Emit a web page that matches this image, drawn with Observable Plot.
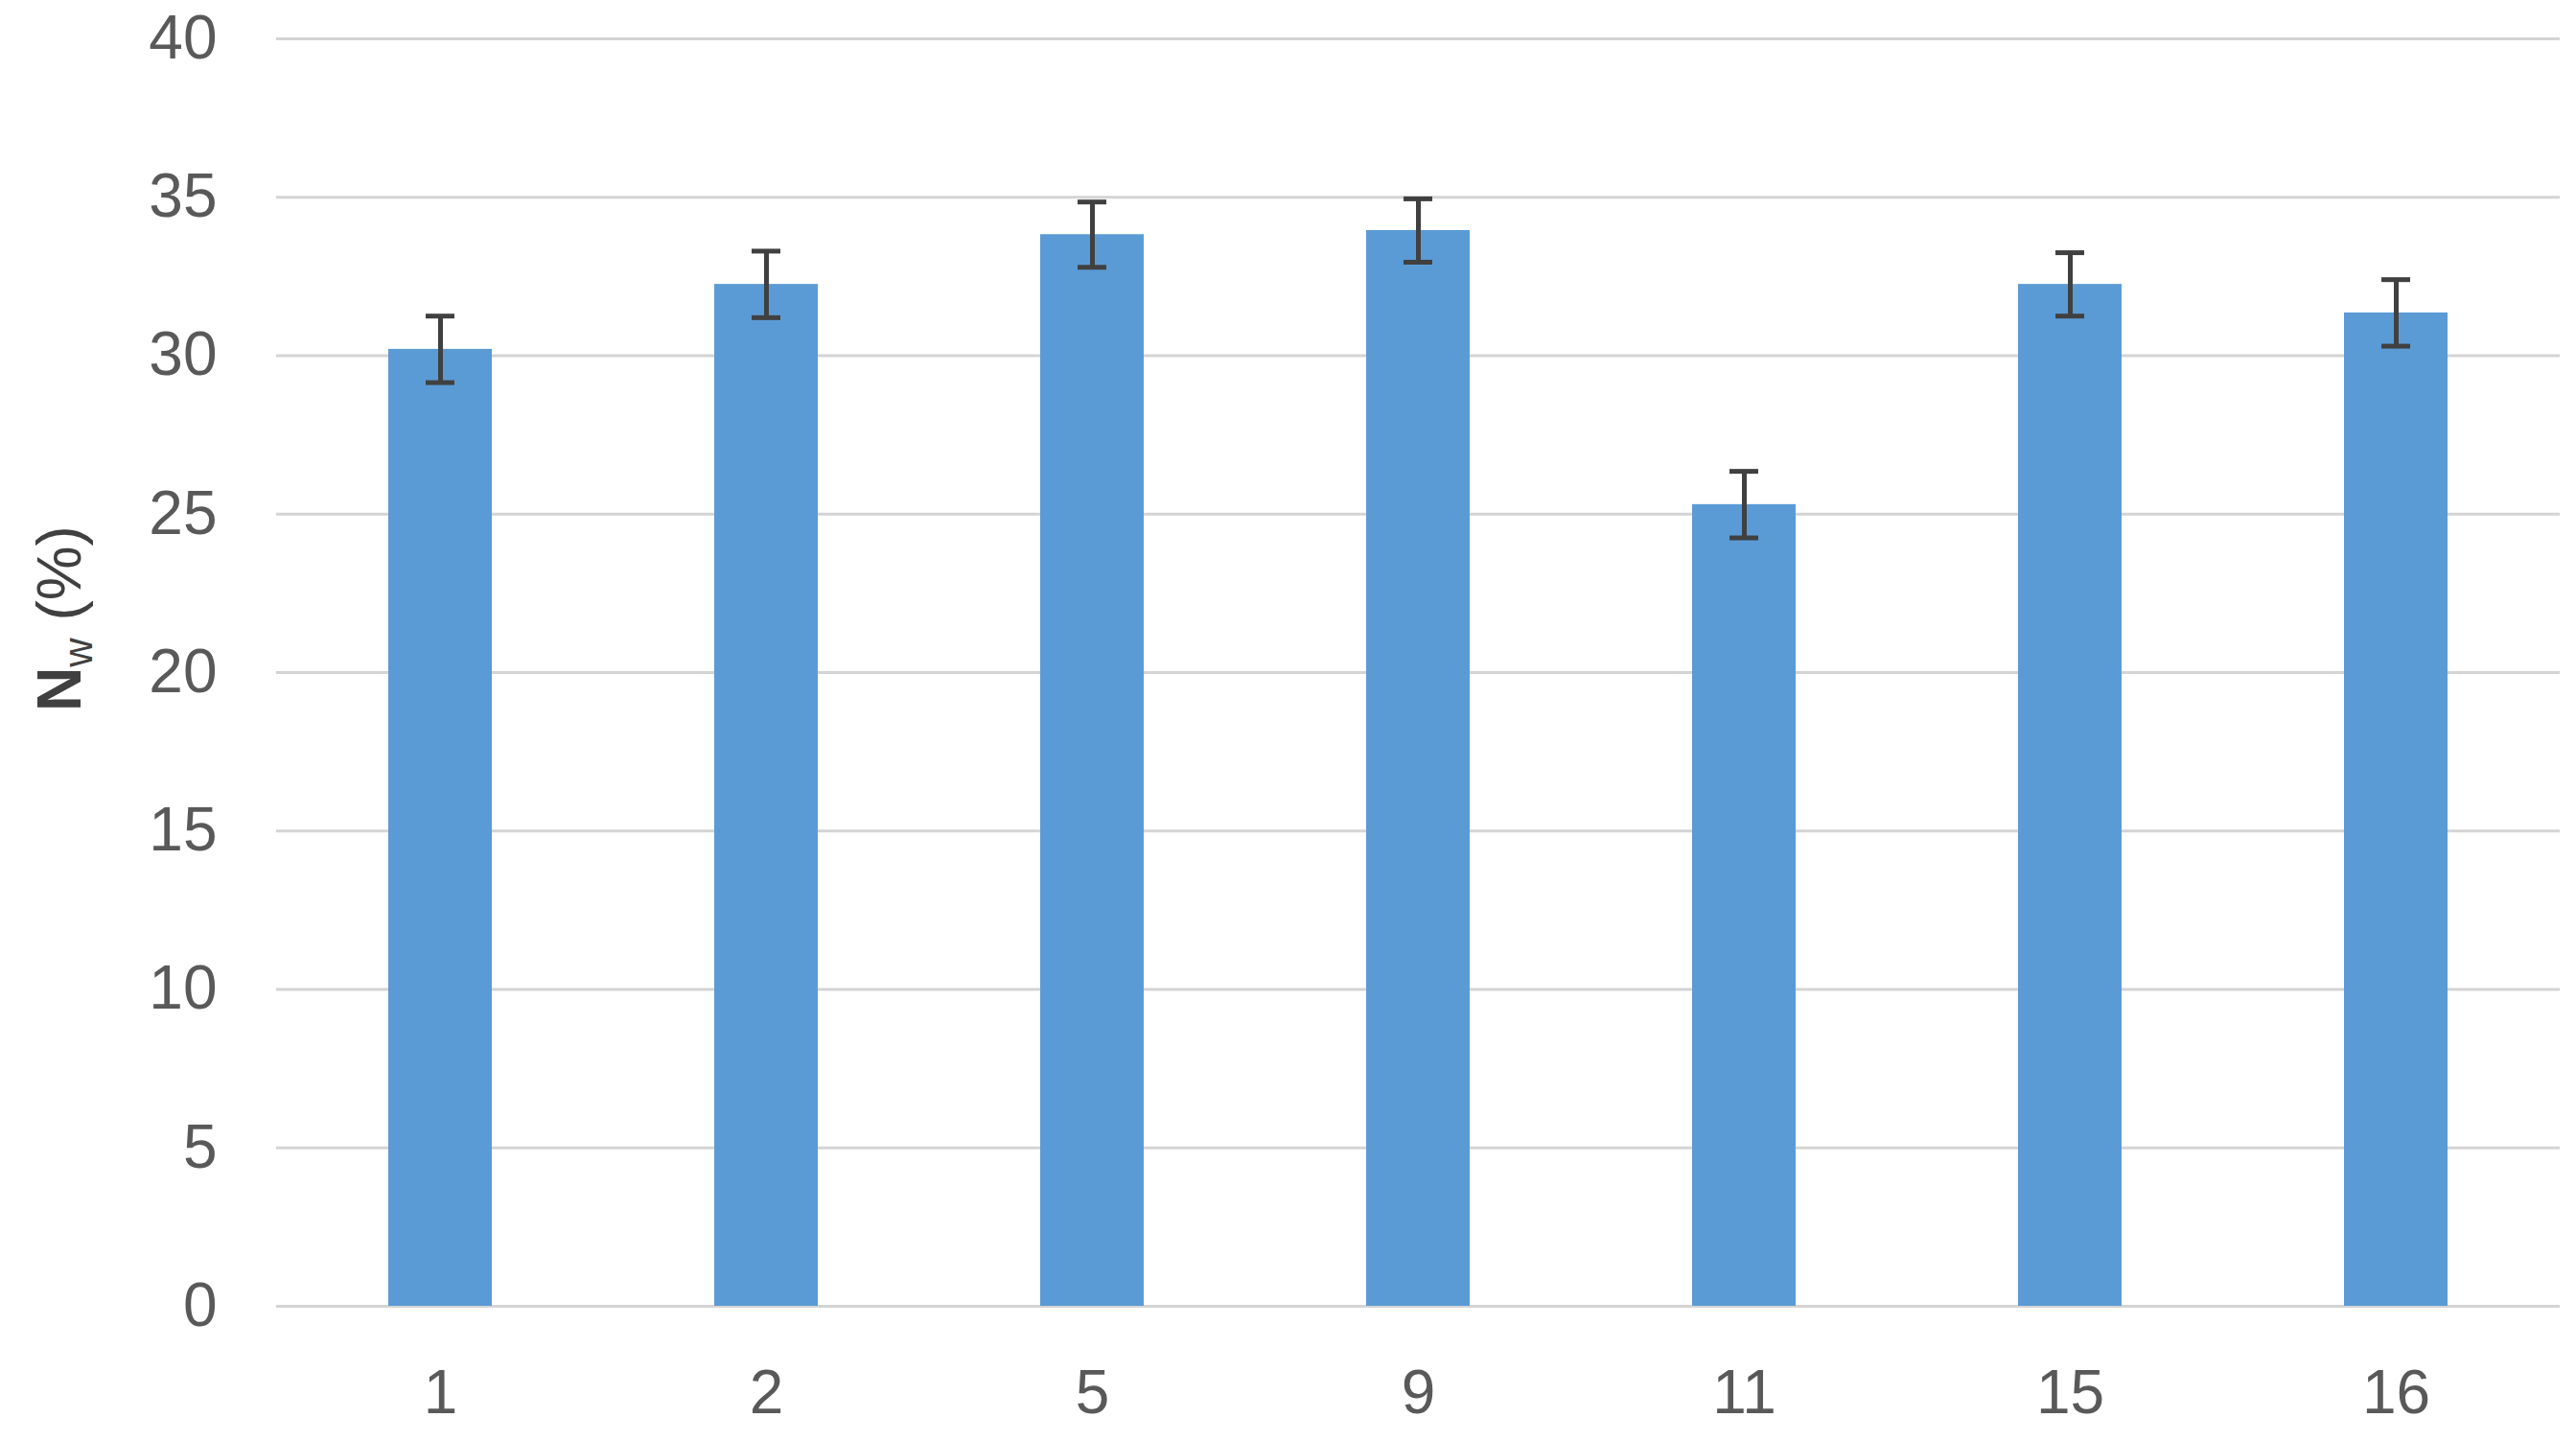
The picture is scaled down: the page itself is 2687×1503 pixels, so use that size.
<!DOCTYPE html>
<html>
<head>
<meta charset="utf-8">
<script src="https://cdn.jsdelivr.net/npm/d3@7"></script>
<script src="https://cdn.jsdelivr.net/npm/@observablehq/plot@0.6"></script>
<style>
  html, body { margin: 0; padding: 0; background: #fff; }
</style>
</head>
<body>
<div id="chart"></div>
<script>
const categories = ["1", "2", "5", "9", "11", "15", "16"];
const values = [30.2, 32.25, 33.82, 33.95, 25.3, 32.25, 31.35];
const errors = [1.05, 1.05, 1.03, 1.0, 1.05, 1.0, 1.05];
const yTicks = [0, 5, 10, 15, 20, 25, 30, 35, 40];

const data = categories.map((c, i) => ({cat: c, v: values[i], e: errors[i]}));

const W = 2687, H = 1503;
const font = "'Liberation Sans', Arial, sans-serif";

const plot = Plot.plot({
  width: W,
  height: H,
  marginLeft: 288,
  marginRight: 17,
  marginTop: 40,
  marginBottom: 141,
  style: {fontFamily: font, fontSize: "64px", background: "#fff"},
  x: {domain: categories, paddingInner: 0.683, paddingOuter: 0.3415, label: null},
  y: {domain: [0, 40], label: null},
  marks: [
    Plot.ruleY(yTicks, {stroke: "#d4d4d4", strokeWidth: 3}),
    Plot.barY(data, {x: "cat", y: "v", fill: "#5B9BD5"}),
    Plot.ruleX(data, {x: "cat", y1: d => d.v - d.e, y2: d => d.v + d.e, stroke: "#404040", strokeWidth: 5}),
    Plot.tickY(data, {x: "cat", y: d => d.v + d.e, stroke: "#404040", strokeWidth: 5, inset: 39}),
    Plot.tickY(data, {x: "cat", y: d => d.v - d.e, stroke: "#404040", strokeWidth: 5, inset: 39}),
    Plot.axisY({ticks: yTicks, tickSize: 0, tickPadding: 62, color: "#595959", label: null}),
    Plot.axisX({tickSize: 0, tickPadding: 66, color: "#595959", label: null})
  ]
});

document.getElementById("chart").appendChild(plot);

// y-axis title with subscript
const svg = d3.select(plot);
const t = svg.append("text")
  .attr("transform", "translate(84,645) rotate(-90)")
  .attr("text-anchor", "middle")
  .attr("fill", "#404040")
  .style("font-family", font)
  .style("font-size", "64px");
t.append("tspan").attr("font-weight", "bold").text("N");
t.append("tspan").attr("font-size", "42px").attr("dy", "12").text("w");
t.append("tspan").attr("dy", "-12").text(" (%)");
</script>
</body>
</html>
